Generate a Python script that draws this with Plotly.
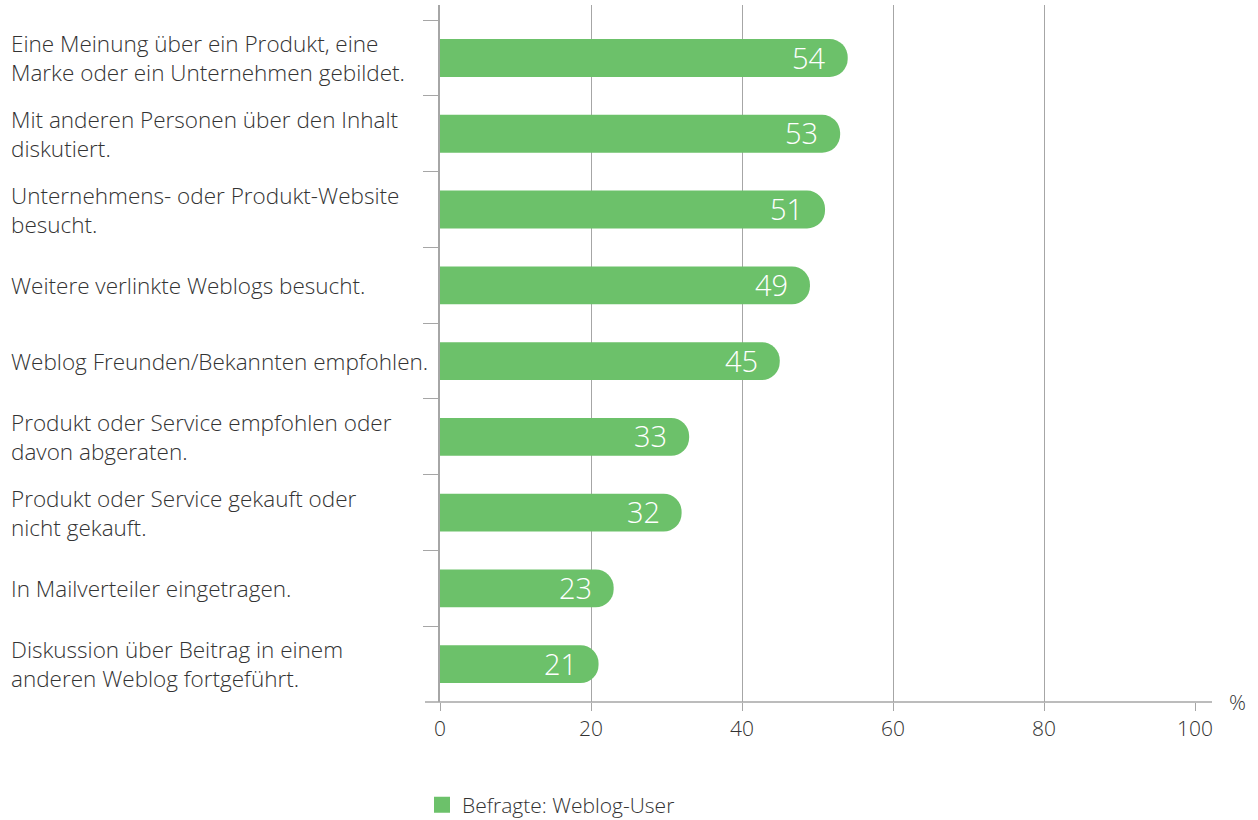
import plotly.graph_objects as go

categories = [
    "Eine Meinung über ein Produkt, eine<br>Marke oder ein Unternehmen gebildet.",
    "Mit anderen Personen über den Inhalt<br>diskutiert.",
    "Unternehmens- oder Produkt-Website<br>besucht.",
    "Weitere verlinkte Weblogs besucht.",
    "Weblog Freunden/Bekannten empfohlen.",
    "Produkt oder Service empfohlen oder<br>davon abgeraten.",
    "Produkt oder Service gekauft oder<br>nicht gekauft.",
    "In Mailverteiler eingetragen.",
    "Diskussion über Beitrag in einem<br>anderen Weblog fortgeführt.",
]
values = [54, 53, 51, 49, 45, 33, 32, 23, 21]
series_name = "Befragte: Weblog-User"
x_ticks = [0, 20, 40, 60, 80, 100]

GREEN = "#6cc16a"
GRID = "#a6a6a6"
TXT = "#333333"
FONT = "Open Sans"
WT = 300

W, H = 1258, 820
ml, mr, mt, mb = 440, 63, 5, 118
pw = W - ml - mr
ph = H - mt - mb

fig = go.Figure()
fig.add_trace(go.Bar(
    y=categories, x=values, orientation="h", name=series_name,
    marker=dict(color=GREEN, cornerradius="50%", line=dict(width=0)),
    width=0.5,
    showlegend=False,
))
# legend entry
fig.add_trace(go.Scatter(
    x=[None], y=[None], mode="markers", name=series_name,
    marker=dict(symbol="square", size=18, color=GREEN),
    showlegend=True,
))

# value labels at bar ends
for c, v in zip(categories, values):
    fig.add_annotation(
        x=v, xref="x", y=c, yref="y", text=str(v), showarrow=False,
        xanchor="right", yanchor="middle", xshift=-20, yshift=1,
        font=dict(size=29, color="white", family=FONT, weight=WT),
    )

# category labels, left aligned
for c in categories:
    fig.add_annotation(
        x=-(ml - 9) / pw, xref="paper", y=c, yref="y",
        text=c, showarrow=False, xanchor="left", align="left",
        font=dict(size=22.5, color=TXT, family=FONT, weight=WT),
    )

fig.add_annotation(x=1 + 42 / pw, xref="paper", y=0, yref="paper", text="%",
                   showarrow=False, xanchor="center", yanchor="middle",
                   font=dict(size=21, color=TXT, family=FONT, weight=WT))

# extended baseline
fig.add_shape(type="line", xref="paper", yref="paper", x0=-15 / pw, x1=1 + 17 / pw,
              y0=0, y1=0, line=dict(color=GRID, width=1.5))

fig.update_layout(
    width=W, height=H,
    margin=dict(l=ml, r=mr, t=mt, b=mb, autoexpand=False),
    plot_bgcolor="white", paper_bgcolor="white",
    font=dict(family=FONT, color=TXT),
    xaxis=dict(range=[0, 100], tickvals=x_ticks, showgrid=True, gridcolor=GRID,
               gridwidth=1.2, ticks="outside", ticklen=8, tickcolor=GRID,
               tickfont=dict(size=21, color=TXT, family=FONT, weight=WT),
               zeroline=False, showline=False, automargin=False),
    yaxis=dict(type="category", range=[8.5, -0.7], tickson="boundaries",
               ticks="outside", ticklen=15, tickcolor=GRID, showticklabels=False,
               showgrid=False, showline=True, linecolor=GRID, linewidth=1.5,
               automargin=False),
    legend=dict(orientation="h", x=-18 / pw, xanchor="left", y=-103 / ph,
                yanchor="middle",
                font=dict(size=21, color=TXT, family=FONT, weight=WT)),
)

fig.write_html("out.html", config={"displayModeBar": False},
               post_script="document.body.style.margin='0';")
